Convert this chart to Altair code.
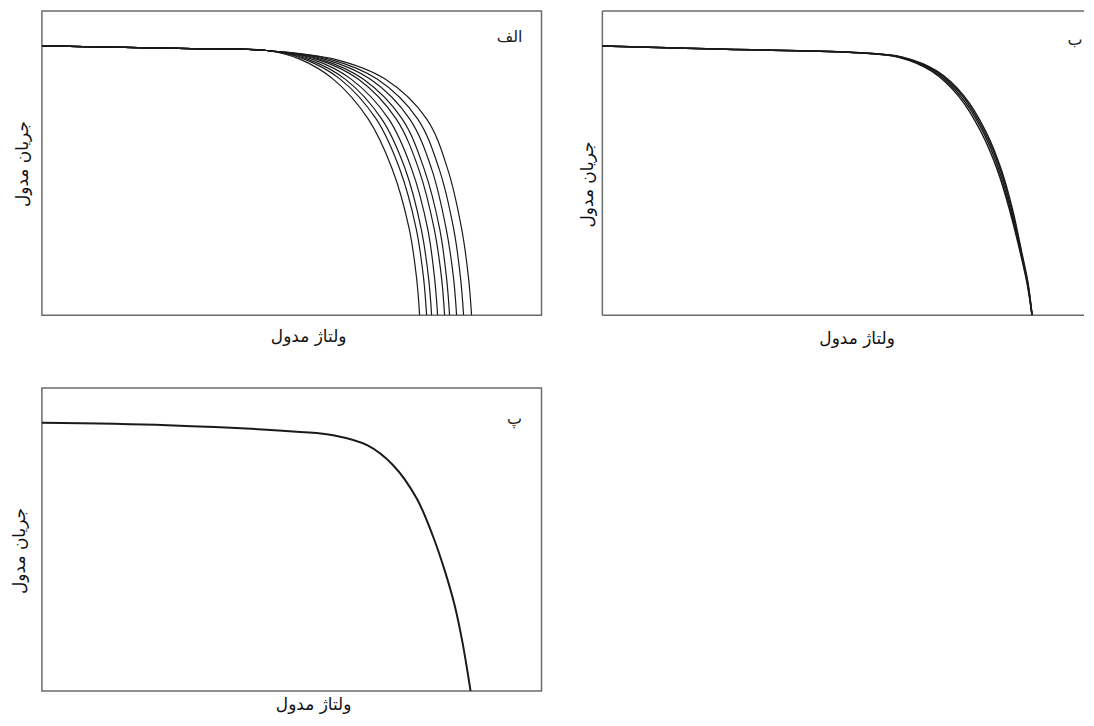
import altair as alt
import pandas as pd

FONT = "DejaVu Sans"
INK = "#1a1a1a"
FRAME = "#6b6b6b"

X_TITLE = "ولتاژ مدول"
Y_TITLE = "جریان مدول"

# ---- Panel الف : nine I-V curves (shared current levels, voltage per curve)
a_current = [88.5, 87.6, 87.0, 84.1, 77.6, 64.5, 48.1, 28.5, 12.1, 0.0]
a_voltage = [
    [0, 30, 45, 51.7, 58.3, 65.3, 70.1, 73.5, 75.0, 75.6],
    [0, 30, 45, 52.6, 59.7, 66.9, 71.6, 74.9, 76.4, 77.0],
    [0, 30, 45, 53.3, 60.7, 68.0, 72.7, 75.9, 77.4, 78.0],
    [0, 30, 45, 54.2, 61.9, 69.4, 74.0, 77.2, 78.6, 79.2],
    [0, 30, 45, 55.1, 63.3, 70.9, 75.4, 78.5, 80.0, 80.6],
    [0, 30, 45, 55.8, 64.3, 72.1, 76.5, 79.6, 81.0, 81.6],
    [0, 30, 45, 56.7, 65.7, 73.6, 78.0, 80.9, 82.4, 83.0],
    [0, 30, 45, 57.7, 67.1, 75.2, 79.5, 82.4, 83.8, 84.4],
    [0, 30, 45, 58.7, 68.7, 77.0, 81.2, 84.0, 85.4, 86.0],
]

# ---- Panel ب : nearly overlapping curves
b_current = [88.5, 87.4, 86.4, 84.8, 80.2, 72.0, 60.2, 47.1, 34.0, 20.9, 10.5, 0.0]
b_voltage = [
    [0, 24.8, 49.3, 59.3, 65.9, 71.3, 75.8, 79.2, 81.6, 83.6, 85.0, 86.0],
    [0, 24.8, 49.5, 59.6, 66.3, 71.7, 76.2, 79.5, 81.8, 83.7, 85.1, 86.0],
    [0, 24.8, 49.7, 59.9, 66.7, 72.1, 76.5, 79.8, 82.0, 83.8, 85.1, 86.0],
    [0, 24.8, 49.8, 60.1, 67.0, 72.4, 76.8, 80.0, 82.2, 83.9, 85.2, 86.0],
]

# ---- Panel پ : single curve
c_current = [88.5, 87.7, 85.5, 84.4, 81.1, 74.5, 63.6, 51.4, 39.9, 28.4, 15.9, 0.0]
c_voltage = [0, 25.1, 51.7, 58.3, 65.1, 70.3, 75.0, 78.2, 80.6, 82.6, 84.2, 85.8]

labels = ["الف", "ب", "پ"]


def curves_df(current, voltages):
    rows = []
    for k, vs in enumerate(voltages):
        for j, (v, i) in enumerate(zip(vs, current)):
            rows.append({"curve": k, "v": v, "i": i, "ord": j})
    return pd.DataFrame(rows)


def axes(tx, ty, yx, yy):
    ax = alt.Axis(title=X_TITLE, labels=False, ticks=False, domain=False, grid=False,
                  titleFont=FONT, titleFontSize=17, titleFontWeight="normal",
                  titleColor="#111111", titleX=tx, titleY=ty,
                  titleBaseline="middle", titleAlign="center")
    ay = alt.Axis(title=Y_TITLE, labels=False, ticks=False, domain=False, grid=False,
                  titleFont=FONT, titleFontSize=17, titleFontWeight="normal",
                  titleColor="#111111", titleX=yx, titleY=yy, titleAngle=270,
                  titleBaseline="middle", titleAlign="center")
    return ax, ay


def panel(df, xmax, ax, ay, lw, label, lx, ly):
    xs = alt.Scale(domain=[0, xmax], nice=False, zero=False)
    ys = alt.Scale(domain=[0, 100], nice=False, zero=False)
    line = alt.Chart(df).mark_line(interpolate="catmull-rom", color=INK, strokeWidth=lw,
                                   clip=True).encode(
        x=alt.X("v:Q", scale=xs, axis=ax),
        y=alt.Y("i:Q", scale=ys, axis=ay),
        detail="curve:N",
        order="ord:Q",
    )
    lab = alt.Chart(pd.DataFrame({"v": [lx], "i": [ly], "t": [label]})).mark_text(
        font=FONT, fontSize=16, color="#222222", align="center", baseline="middle"
    ).encode(x=alt.X("v:Q", scale=xs), y=alt.Y("i:Q", scale=ys), text="t:N")
    return line, lab, xs, ys


framed = alt.ViewBackground(stroke=FRAME, strokeWidth=1.5, fill="white")

# Panel A
axA, ayA = axes(267, 21, -19, 153)
lA, tA, _, _ = panel(curves_df(a_current, a_voltage), 100, axA, ayA, 1.2,
                     labels[0], 93.6, 91.3)
chartA = alt.layer(lA, tA).properties(width=501, height=305, view=framed)

# Panel B (its right border falls outside the picture)
B_W = 483
B_XMAX = 96.4
axB, ayB = axes(255, 23, -15, 173.5)
lB, tB, xsB, ysB = panel(curves_df(b_current, b_voltage), B_XMAX, axB, ayB, 1.5,
                         labels[1], 94.6, 90.3)
frame_df = pd.DataFrame({"x1": [0, 0, 0], "x2": [B_XMAX, B_XMAX, 0],
                         "y1": [100, 0, 0], "y2": [100, 0, 100]})
frameB = alt.Chart(frame_df).mark_rule(color=FRAME, strokeWidth=1.5).encode(
    x=alt.X("x1:Q", scale=xsB), x2="x2:Q",
    y=alt.Y("y1:Q", scale=ysB), y2="y2:Q")
chartB = alt.layer(frameB, lB, tB).properties(
    width=B_W, height=305, view=alt.ViewBackground(stroke="transparent"))

# Panel C
axC, ayC = axes(272, 13, -22, 163)
lC, tC, _, _ = panel(curves_df(c_current, [c_voltage]), 100, axC, ayC, 2.0,
                     labels[2], 94.6, 89.9)
chartC = alt.layer(lC, tC).properties(width=501, height=304, view=framed)

chart = alt.concat(chartA, chartB, chartC, columns=2,
                   spacing={"row": 73, "column": 61}, bounds="flush").properties(
    padding={"left": 2, "top": 0, "right": 0, "bottom": 0}
).configure(background="white")

chart.save("out.html", embed_options={"renderer": "svg", "actions": False})
